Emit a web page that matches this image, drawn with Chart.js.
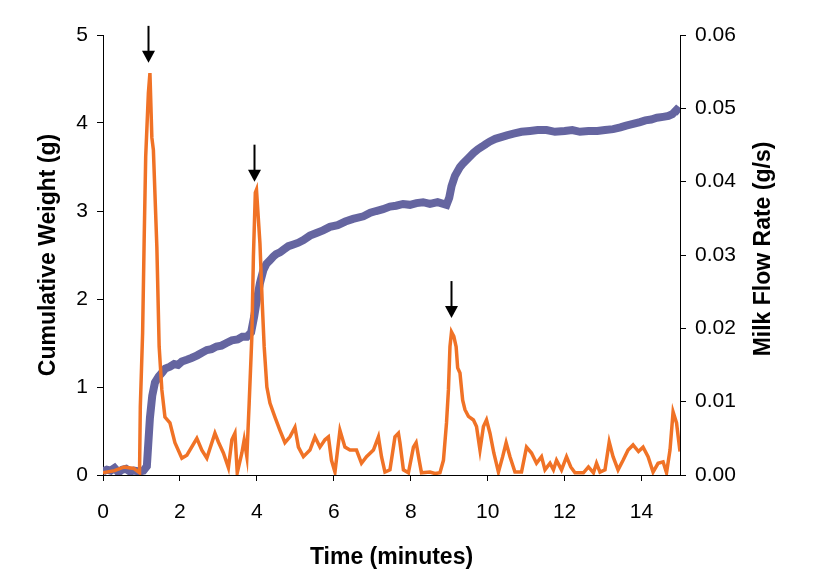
<!DOCTYPE html>
<html>
<head>
<meta charset="utf-8">
<script src="https://cdn.jsdelivr.net/npm/chart.js@4"></script>
<style>
  body { margin: 0; background: #fff; }
  #wrap { width: 814px; height: 587px; }
</style>
</head>
<body>
<div id="wrap"><canvas id="chart" width="814" height="587"></canvas></div>
<script>
// milk flow rate (g/s)
const flowTime = [0.00, 0.30, 0.55, 0.80, 0.95, 0.97, 1.03, 1.07, 1.11, 1.18, 1.22, 1.27, 1.31, 1.40, 1.46, 1.53, 1.61, 1.74, 1.87, 2.05,
    2.18, 2.44, 2.57, 2.70, 2.91, 3.00, 3.13, 3.26, 3.35, 3.43, 3.49, 3.61, 3.67, 3.74, 3.80, 3.87, 3.91, 3.96, 3.99, 4.08,
    4.14, 4.19, 4.26, 4.34, 4.47, 4.60, 4.73, 4.86, 4.99, 5.08, 5.21, 5.38, 5.51, 5.64, 5.77, 5.86, 5.94, 6.03, 6.16, 6.29,
    6.42, 6.59, 6.72, 6.85, 7.03, 7.16, 7.24, 7.33, 7.46, 7.59, 7.68, 7.72, 7.81, 7.94, 8.07, 8.14, 8.22, 8.28, 8.50, 8.63,
    8.76, 8.85, 8.93, 8.98, 9.02, 9.06, 9.12, 9.18, 9.22, 9.28, 9.35, 9.41, 9.50, 9.63, 9.71, 9.80, 9.89, 9.97, 10.06, 10.16,
    10.28, 10.39, 10.48, 10.58, 10.71, 10.88, 11.01, 11.14, 11.27, 11.40, 11.49, 11.62, 11.71, 11.79, 11.92, 12.05, 12.16, 12.27, 12.49, 12.62,
    12.75, 12.83, 12.92, 13.05, 13.16, 13.26, 13.39, 13.52, 13.65, 13.78, 13.92, 14.04, 14.17, 14.30, 14.43, 14.56, 14.65, 14.74, 14.82, 14.91, 15.00];
const flowRate = [0.0003, 0.0006, 0.0011, 0.0009, 0.0003, 0.0093, 0.0194, 0.0320, 0.0434, 0.0521, 0.0548, 0.0460, 0.0443, 0.0311, 0.0175, 0.0116, 0.0079, 0.0071, 0.0044, 0.0023,
    0.0027, 0.0050, 0.0034, 0.0023, 0.0057, 0.0045, 0.0030, 0.0010, 0.0048, 0.0057, 0.0003, 0.0030, 0.0048, 0.0025, 0.0098, 0.0189, 0.0298, 0.0385, 0.0389, 0.0316,
    0.0234, 0.0175, 0.0120, 0.0098, 0.0079, 0.0061, 0.0044, 0.0052, 0.0065, 0.0038, 0.0025, 0.0034, 0.0052, 0.0038, 0.0048, 0.0052, 0.0020, 0.0004, 0.0061, 0.0038,
    0.0034, 0.0034, 0.0016, 0.0025, 0.0034, 0.0052, 0.0025, 0.0004, 0.0007, 0.0052, 0.0057, 0.0044, 0.0007, 0.0003, 0.0038, 0.0044, 0.0020, 0.0003, 0.0004, 0.0002,
    0.0003, 0.0020, 0.0071, 0.0116, 0.0175, 0.0195, 0.0189, 0.0175, 0.0146, 0.0139, 0.0102, 0.0089, 0.0080, 0.0075, 0.0066, 0.0034, 0.0066, 0.0075, 0.0057, 0.0030,
    0.0004, 0.0025, 0.0044, 0.0025, 0.0004, 0.0004, 0.0038, 0.0030, 0.0016, 0.0025, 0.0007, 0.0016, 0.0007, 0.0020, 0.0007, 0.0025, 0.0011, 0.0003, 0.0003, 0.0011,
    0.0003, 0.0016, 0.0004, 0.0007, 0.0045, 0.0025, 0.0007, 0.0020, 0.0034, 0.0041, 0.0032, 0.0038, 0.0025, 0.0004, 0.0016, 0.0018, 0.0003, 0.0034, 0.0086, 0.0071, 0.0032];

// cumulative weight (g) (its jagged edges included)
const weightTime = [0.00, 0.10, 0.20, 0.30, 0.40, 0.50, 0.60, 0.70, 0.80, 0.95, 1.05, 1.14, 1.22, 1.28, 1.35, 1.45, 1.53, 1.62, 1.74, 1.85,
    1.95, 2.05, 2.18, 2.30, 2.45, 2.57, 2.70, 2.82, 2.95, 3.08, 3.21, 3.35, 3.50, 3.62, 3.74, 3.85, 3.93, 4.00, 4.08, 4.17,
    4.25, 4.34, 4.42, 4.50, 4.60, 4.69, 4.82, 4.95, 5.08, 5.21, 5.38, 5.55, 5.72, 5.90, 6.10, 6.30, 6.50, 6.77, 6.95, 7.10,
    7.28, 7.46, 7.62, 7.80, 7.98, 8.15, 8.32, 8.50, 8.70, 8.93, 9.00, 9.06, 9.15, 9.28, 9.36, 9.45, 9.54, 9.63, 9.74, 9.85,
    9.95, 10.06, 10.20, 10.35, 10.50, 10.67, 10.88, 11.10, 11.30, 11.53, 11.75, 12.00, 12.20, 12.40, 12.62, 12.85, 13.05, 13.26, 13.45, 13.60,
    13.78, 13.96, 14.10, 14.25, 14.40, 14.56, 14.70, 14.80, 14.91, 15.00];
const weight = [0.04, 0.06, 0.05, 0.08, 0.03, 0.06, 0.07, 0.04, 0.05, 0.04, 0.05, 0.10, 0.65, 0.90, 1.05, 1.12, 1.16, 1.21, 1.23, 1.26,
    1.25, 1.29, 1.31, 1.33, 1.36, 1.39, 1.42, 1.43, 1.46, 1.47, 1.50, 1.53, 1.54, 1.57, 1.57, 1.62, 1.80, 1.99, 2.18, 2.33,
    2.40, 2.44, 2.48, 2.51, 2.53, 2.56, 2.60, 2.62, 2.64, 2.67, 2.72, 2.75, 2.78, 2.82, 2.84, 2.88, 2.91, 2.94, 2.98, 3.00,
    3.02, 3.05, 3.06, 3.08, 3.07, 3.09, 3.10, 3.08, 3.10, 3.07, 3.15, 3.28, 3.40, 3.50, 3.54, 3.58, 3.62, 3.66, 3.70, 3.73,
    3.76, 3.79, 3.82, 3.84, 3.86, 3.88, 3.90, 3.91, 3.92, 3.92, 3.90, 3.91, 3.92, 3.90, 3.91, 3.91, 3.92, 3.93, 3.95, 3.97,
    3.99, 4.01, 4.03, 4.04, 4.06, 4.07, 4.08, 4.10, 4.15, 4.12];

// arrows above the three flow peaks (x in minutes, tip in g/s)
const arrowTime = [1.18, 3.93, 9.05];
const arrowTip = [0.0562, 0.0400, 0.0214];

const xTitle = 'Time (minutes)';
const leftTitle = 'Cumulative Weight (g)';
const rightTitle = 'Milk Flow Rate (g/s)';

const FONT = "'Liberation Sans', Arial, sans-serif";

const arrowPlugin = {
    id: 'arrows',
    afterDatasetsDraw(chart) {
        const ctx = chart.ctx;
        const xs = chart.scales.x;
        const ys = chart.scales.y2;
        ctx.save();
        ctx.fillStyle = '#000';
        ctx.strokeStyle = '#000';
        ctx.lineWidth = 2;
        for (let i = 0; i < arrowTime.length; i++) {
            const px = Math.round(xs.getPixelForValue(arrowTime[i])) + 0.5;
            const tip = ys.getPixelForValue(arrowTip[i]);
            ctx.beginPath();
            ctx.moveTo(px, tip - 37);
            ctx.lineTo(px, tip - 10);
            ctx.stroke();
            ctx.beginPath();
            ctx.moveTo(px - 6.5, tip - 12);
            ctx.lineTo(px + 6.5, tip - 12);
            ctx.lineTo(px, tip);
            ctx.closePath();
            ctx.fill();
        }
        // right axis title reads bottom-to-top like the left one
        ctx.font = 'bold 23px ' + FONT;
        ctx.textAlign = 'center';
        ctx.textBaseline = 'middle';
        ctx.translate(764, 249);
        ctx.rotate(-Math.PI / 2);
        ctx.fillText(rightTitle, 0, 0);
        ctx.restore();
    }
};

const axisLine = {
    display: true,
    drawOnChartArea: false,
    drawTicks: true,
    tickLength: 6,
    color: '#000',
    lineWidth: 1
};

new Chart(document.getElementById('chart'), {
    type: 'line',
    data: {
        datasets: [{
            label: 'Milk Flow Rate',
            data: flowTime.map((t, i) => ({ x: t, y: flowRate[i] })),
            yAxisID: 'y2',
            borderColor: '#F07226',
            borderWidth: 3.5,
            pointRadius: 0,
            tension: 0,
            order: 0
        }, {
            label: 'Cumulative Weight',
            data: weightTime.map((t, i) => ({ x: t, y: weight[i] })),
            yAxisID: 'y',
            borderColor: '#6565A0',
            borderWidth: 8,
            pointRadius: 0,
            tension: 0,
            order: 1
        }]
    },
    options: {
        responsive: false,
        animation: false,
        devicePixelRatio: 1,
        layout: { padding: { top: 35, left: 0, right: 0, bottom: 0 } },
        plugins: { legend: { display: false }, tooltip: { enabled: false } },
        scales: {
            x: {
                type: 'linear',
                min: 0,
                max: 15,
                grid: axisLine,
                border: { color: '#000', width: 1 },
                ticks: {
                    stepSize: 2,
                    includeBounds: false,
                    maxRotation: 0,
                    padding: 19,
                    color: '#000',
                    font: { family: FONT, size: 21 }
                },
                title: {
                    display: true,
                    text: xTitle,
                    color: '#000',
                    font: { family: FONT, size: 23, weight: 'bold' },
                    padding: { top: 0, bottom: 16 }
                },
                afterFit(scale) { scale.height = 112; }
            },
            y: {
                position: 'left',
                min: 0,
                max: 5,
                grid: axisLine,
                border: { color: '#000', width: 1 },
                ticks: {
                    stepSize: 1,
                    padding: 9,
                    color: '#000',
                    font: { family: FONT, size: 21 }
                },
                title: {
                    display: true,
                    text: leftTitle,
                    color: '#000',
                    font: { family: FONT, size: 23, weight: 'bold' },
                    padding: { top: 35, bottom: 0 }
                },
                afterFit(scale) { scale.width = 103; }
            },
            y2: {
                position: 'right',
                min: 0,
                max: 0.06,
                grid: axisLine,
                border: { color: '#000', width: 1 },
                ticks: {
                    stepSize: 0.01,
                    padding: 9,
                    color: '#000',
                    font: { family: FONT, size: 21 },
                    callback: v => v.toFixed(2)
                },
                afterFit(scale) { scale.width = 134; }
            }
        }
    },
    plugins: [arrowPlugin]
});
</script>
</body>
</html>
